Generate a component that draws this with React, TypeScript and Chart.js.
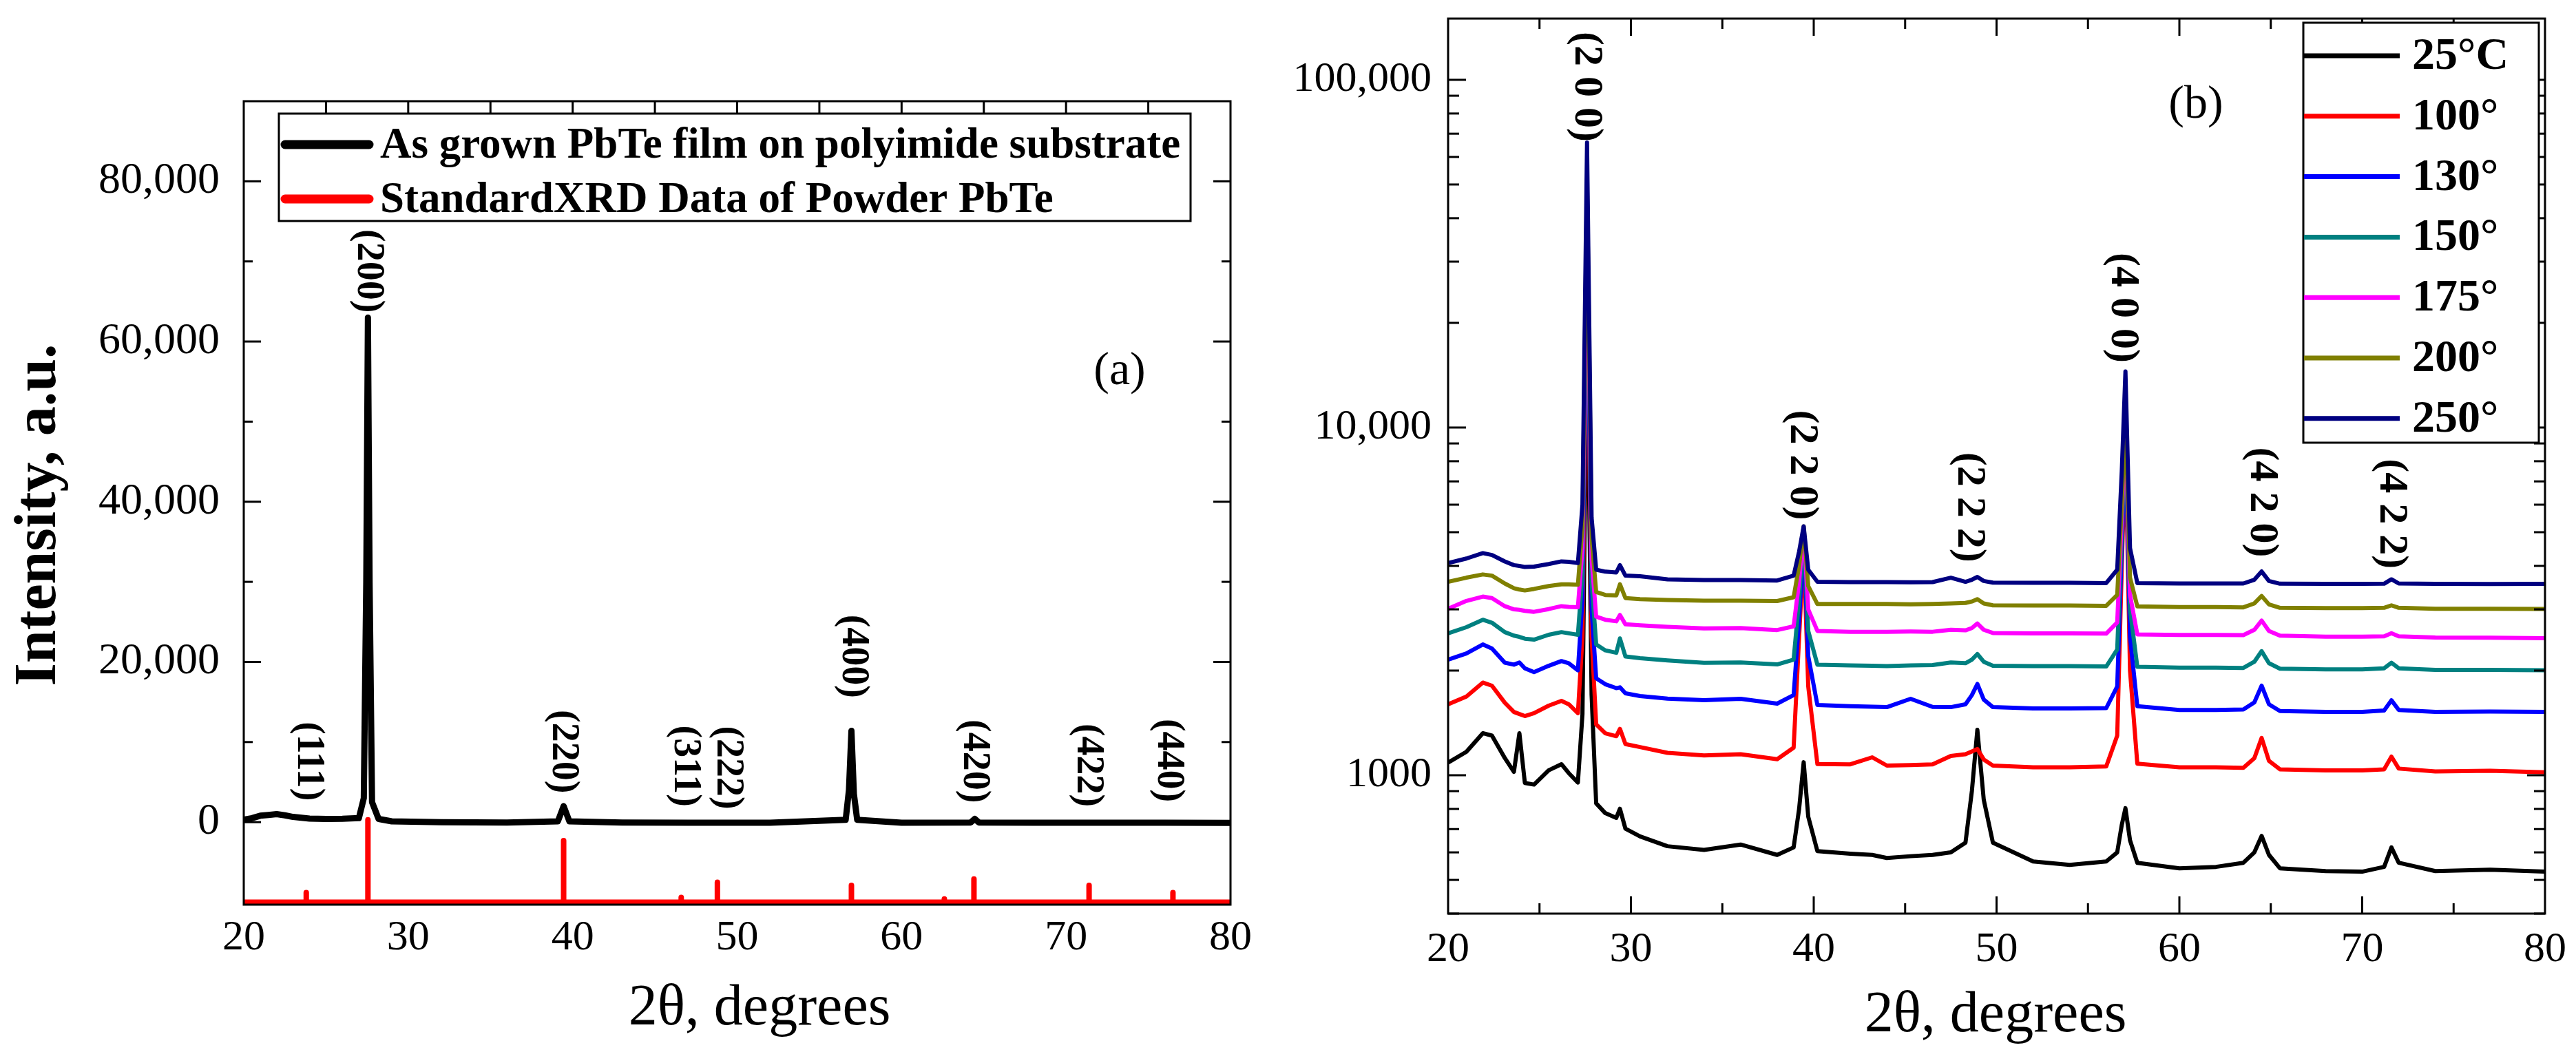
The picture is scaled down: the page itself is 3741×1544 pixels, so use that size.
import React, { useEffect, useRef } from 'react';
import { Chart, registerables } from 'chart.js';

Chart.register(...registerables);

const SERIF = '"Liberation Serif", "Times New Roman", serif';

// ---------------- Panel (a) data ----------------
const thetaA = [20, 20.5, 21, 21.5, 22, 22.5, 23, 24, 25, 26, 27, 27.3, 27.45, 27.55, 27.65, 27.8, 28.2, 29, 32, 36, 39.1, 39.45, 39.8, 43, 47, 52, 56.6, 56.8, 56.95, 57.1, 57.3, 60, 64.2, 64.45, 64.7, 68, 72, 76, 80];
const intensityA = [300, 500, 800, 900, 1000, 850, 650, 450, 400, 420, 500, 3000, 30000, 63000, 30000, 2500, 400, 100, 0, -50, 100, 2000, 100, -50, -80, -80, 300, 4000, 11400, 3500, 300, -80, -50, 400, -50, -80, -80, -80, -100];
const stdPeakTheta = [23.8, 27.55, 39.45, 46.6, 48.8, 56.95, 62.6, 64.4, 71.4, 76.5];
const stdPeakTop = [-8800, 300, -2300, -9400, -7500, -7900, -9600, -7100, -7900, -8800];
const stdBaseline = -10000;
const hklA = ['(111)', '(200)', '(220)', '(311)', '(222)', '(400)', '(420)', '(422)', '(440)'];
const hklAX = [23.9, 27.55, 39.4, 46.8, 49.4, 57.05, 64.4, 71.3, 76.2];
const hklAY = [7600, 68800, 8800, 7000, 6800, 20700, 7600, 7100, 7700];
const yTicksA = [0, 20000, 40000, 60000, 80000];
const yTickLabelsA = ['0', '20,000', '40,000', '60,000', '80,000'];
const yMinorA = [10000, 30000, 50000, 70000];
const legendLabelsA = ['As grown PbTe film on polyimide substrate', 'StandardXRD Data of Powder PbTe'];

// ---------------- shared x ticks ----------------
const xTicks = [20, 30, 40, 50, 60, 70, 80];
const xTickLabels = ['20', '30', '40', '50', '60', '70', '80'];
const xMajorInner = [30, 40, 50, 60, 70];
const xMinor = [25, 35, 45, 55, 65, 75];

// ---------------- Panel (b) data ----------------
const thetaB = [20, 21, 21.9, 22.4, 23.1, 23.6, 23.9, 24.2, 24.7, 25.5, 26.2, 26.6, 27.1, 27.35, 27.6, 27.85, 28.1, 28.6, 29.2, 29.4, 29.7, 30.5, 32, 34, 36, 38, 38.9, 39.2, 39.45, 39.7, 40.2, 42, 43.2, 44, 45.3, 46.5, 47.5, 48.3, 48.65, 48.95, 49.3, 49.8, 52, 54, 56, 56.6, 56.85, 57.05, 57.3, 57.7, 60, 62, 63.5, 64.1, 64.5, 64.9, 65.5, 68, 70, 71.2, 71.6, 72.0, 74, 77, 80];
const i25 = [1087, 1168, 1321, 1300, 1121, 1023, 1321, 950, 940, 1033, 1076, 1014, 953, 1500, 20000, 1700, 830, 778, 754, 801, 702, 667, 625, 610, 632, 590, 620, 800, 1090, 760, 605, 595, 590, 578, 585, 590, 600, 640, 900, 1351, 850, 640, 565, 552, 565, 600, 720, 804, 650, 560, 540, 545, 560, 600, 669, 590, 540, 530, 528, 545, 620, 560, 530, 535, 528];
const i100 = [1600, 1684, 1847, 1809, 1617, 1520, 1500, 1480, 1508, 1585, 1636, 1600, 1508, 2500, 30000, 2500, 1400, 1320, 1295, 1360, 1229, 1205, 1160, 1140, 1149, 1112, 1200, 2500, 4500, 1800, 1077, 1075, 1126, 1066, 1070, 1075, 1136, 1149, 1170, 1190, 1110, 1066, 1054, 1054, 1060, 1300, 4000, 9000, 2000, 1080, 1054, 1054, 1050, 1120, 1280, 1100, 1040, 1032, 1032, 1040, 1131, 1045, 1025, 1030, 1020];
const i130 = [2150, 2240, 2378, 2314, 2107, 2080, 2110, 2030, 1980, 2064, 2130, 2100, 2003, 3200, 35000, 3000, 1900, 1827, 1780, 1790, 1720, 1690, 1660, 1643, 1659, 1607, 1700, 2800, 4800, 2200, 1592, 1580, 1575, 1570, 1659, 1572, 1570, 1600, 1700, 1830, 1650, 1570, 1556, 1556, 1560, 1800, 4500, 9500, 2500, 1580, 1540, 1540, 1545, 1620, 1810, 1600, 1530, 1522, 1522, 1535, 1643, 1540, 1522, 1525, 1522];
const i150 = [2558, 2665, 2800, 2745, 2580, 2520, 2500, 2470, 2455, 2535, 2580, 2560, 2535, 3800, 40000, 3600, 2378, 2286, 2250, 2475, 2195, 2170, 2140, 2106, 2110, 2083, 2150, 3200, 5000, 2600, 2080, 2070, 2065, 2061, 2070, 2075, 2110, 2100, 2150, 2231, 2120, 2065, 2061, 2061, 2055, 2300, 5000, 10000, 3000, 2050, 2038, 2038, 2035, 2120, 2274, 2100, 2025, 2016, 2016, 2030, 2106, 2030, 2010, 2010, 2004];
const i175 = [3011, 3172, 3264, 3232, 3064, 3000, 2990, 2970, 2951, 3005, 3064, 3050, 3043, 4500, 45000, 4200, 2858, 2800, 2772, 2890, 2716, 2700, 2672, 2644, 2650, 2615, 2680, 3600, 5100, 3000, 2600, 2586, 2586, 2586, 2590, 2586, 2620, 2610, 2650, 2731, 2620, 2565, 2558, 2558, 2555, 2750, 5500, 10500, 3300, 2540, 2532, 2532, 2530, 2620, 2785, 2600, 2520, 2504, 2504, 2510, 2560, 2510, 2490, 2485, 2478];
const i200 = [3600, 3700, 3780, 3750, 3560, 3450, 3420, 3400, 3434, 3500, 3541, 3540, 3530, 5200, 52000, 4800, 3366, 3300, 3290, 3541, 3232, 3210, 3190, 3176, 3176, 3170, 3250, 4000, 5200, 3500, 3108, 3108, 3108, 3108, 3100, 3108, 3120, 3130, 3160, 3209, 3120, 3080, 3076, 3076, 3070, 3300, 6000, 11000, 3700, 3060, 3045, 3045, 3040, 3120, 3278, 3100, 3030, 3024, 3024, 3030, 3080, 3030, 3010, 3010, 3006];
const i250 = [4075, 4200, 4353, 4300, 4120, 4020, 4000, 3970, 3980, 4050, 4121, 4110, 4075, 6000, 66000, 5500, 3900, 3850, 3830, 4020, 3750, 3736, 3660, 3641, 3641, 3630, 3750, 4400, 5200, 3900, 3600, 3593, 3593, 3593, 3590, 3593, 3700, 3600, 3650, 3718, 3620, 3580, 3576, 3576, 3570, 3900, 7500, 14500, 4500, 3570, 3562, 3562, 3560, 3650, 3855, 3620, 3555, 3552, 3552, 3555, 3660, 3560, 3552, 3550, 3552];
const seriesB = [i25, i100, i130, i150, i175, i200, i250];
const seriesLabelsB = ['25°C', '100°', '130°', '150°', '175°', '200°', '250°'];
const seriesColorsB = ['#000000', '#ff0000', '#0000ff', '#008080', '#ff00ff', '#808000', '#000080'];
const hklB = ['(2 0 0)', '(2 2 0)', '(2 2 2)', '(4 0 0)', '(4 2 0)', '(4 2 2)'];
const hklBX = [27.55, 39.35, 48.5, 56.9, 64.5, 71.6];
const hklBY = [95500, 7800, 5900, 22100, 6100, 5650];
const yTicksB = [1000, 10000, 100000];
const yTickLabelsB = ['1000', '10,000', '100,000'];
const yMinorB = [400, 500, 600, 700, 800, 900, 2000, 3000, 4000, 5000, 6000, 7000, 8000, 9000, 20000, 30000, 40000, 50000, 60000, 70000, 80000, 90000];

const H = 1544;

function line(ctx: CanvasRenderingContext2D, x1: number, y1: number, x2: number, y2: number) {
  ctx.beginPath();
  ctx.moveTo(x1, y1);
  ctx.lineTo(x2, y2);
  ctx.stroke();
}

type TickSpec = {
  xTop: [number[], number][];
  xBottom: [number[], number][];
  yLeft: [number[], number][];
  yRight: [number[], number][];
};

function drawFrameAndTicks(chart: any, spec: TickSpec) {
  const ctx: CanvasRenderingContext2D = chart.ctx;
  const { left, right, top, bottom } = chart.chartArea;
  const xs = chart.scales.x;
  const ys = chart.scales.y;
  ctx.save();
  ctx.strokeStyle = '#000';
  ctx.lineWidth = 3;
  ctx.lineCap = 'butt';
  spec.xTop.forEach(([vals, len]) => vals.forEach((v) => { const p = xs.getPixelForValue(v); line(ctx, p, top, p, top + len); }));
  spec.xBottom.forEach(([vals, len]) => vals.forEach((v) => { const p = xs.getPixelForValue(v); line(ctx, p, bottom, p, bottom - len); }));
  spec.yLeft.forEach(([vals, len]) => vals.forEach((v) => { const p = ys.getPixelForValue(v); line(ctx, left, p, left + len, p); }));
  spec.yRight.forEach(([vals, len]) => vals.forEach((v) => { const p = ys.getPixelForValue(v); line(ctx, right, p, right - len, p); }));
  ctx.strokeRect(left, top, right - left, bottom - top);
  ctx.restore();
}

function drawRotatedLabels(chart: any, labels: string[], xv: number[], yv: number[], font: string) {
  const ctx: CanvasRenderingContext2D = chart.ctx;
  const xs = chart.scales.x;
  const ys = chart.scales.y;
  ctx.save();
  ctx.fillStyle = '#000';
  ctx.font = font;
  ctx.textAlign = 'center';
  ctx.textBaseline = 'middle';
  labels.forEach((t, i) => {
    ctx.save();
    ctx.translate(xs.getPixelForValue(xv[i]), ys.getPixelForValue(yv[i]));
    ctx.rotate(Math.PI / 2);
    ctx.fillText(t, 0, 0);
    ctx.restore();
  });
  ctx.restore();
}

function drawText(ctx: CanvasRenderingContext2D, text: string, x: number, y: number, font: string, rot = 0) {
  ctx.save();
  ctx.fillStyle = '#000';
  ctx.font = font;
  ctx.textAlign = 'center';
  ctx.textBaseline = 'middle';
  ctx.translate(x, y);
  if (rot) ctx.rotate(rot);
  ctx.fillText(text, 0, 0);
  ctx.restore();
}

const panelAPlugin = {
  id: 'panelA',
  afterDraw(chart: any) {
    const ctx: CanvasRenderingContext2D = chart.ctx;
    drawFrameAndTicks(chart, {
      xTop: [[xMajorInner, 17], [xMinor, 17]],
      xBottom: [],
      yLeft: [[yTicksA, 25], [yMinorA, 13]],
      yRight: [[yTicksA, 25], [yMinorA, 13]],
    });
    drawRotatedLabels(chart, hklA, hklAX, hklAY, `bold 56px ${SERIF}`);
    // legend
    const bx = 405, by = 165, bw = 1729 - 405, bh = 321 - 165;
    ctx.save();
    ctx.fillStyle = '#fff';
    ctx.fillRect(bx, by, bw, bh);
    ctx.strokeStyle = '#000';
    ctx.lineWidth = 3;
    ctx.strokeRect(bx, by, bw, bh);
    const rows = [210, 289];
    chart.data.datasets.forEach((ds: any, i: number) => {
      ctx.strokeStyle = ds.borderColor;
      ctx.lineWidth = 13;
      ctx.lineCap = 'round';
      line(ctx, 414, rows[i], 536, rows[i]);
      ctx.fillStyle = '#000';
      ctx.font = `bold 63px ${SERIF}`;
      ctx.textAlign = 'left';
      ctx.textBaseline = 'middle';
      ctx.fillText(ds.label, 552, rows[i] + 3);
    });
    ctx.restore();
    drawText(ctx, '(a)', 1626, 540, `68px ${SERIF}`);
    drawText(ctx, '2θ, degrees', 1103, 1466, `84px ${SERIF}`);
    drawText(ctx, 'Intensity, a.u.', 58, 748, `bold 86px ${SERIF}`, -Math.PI / 2);
  },
};

const panelBPlugin = {
  id: 'panelB',
  afterDraw(chart: any) {
    const ctx: CanvasRenderingContext2D = chart.ctx;
    drawFrameAndTicks(chart, {
      xTop: [[xMajorInner, 25], [xMinor, 15]],
      xBottom: [[xMajorInner, 25], [xMinor, 15]],
      yLeft: [[yTicksB, 26], [yMinorB, 16]],
      yRight: [[yTicksB, 26], [yMinorB, 16]],
    });
    drawRotatedLabels(chart, hklB, hklBX, hklBY, `bold 60px ${SERIF}`);
    // legend
    const bx = 1475, by = 33, bw = 1817 - 1475, bh = 643 - 33;
    ctx.save();
    ctx.fillStyle = '#fff';
    ctx.fillRect(bx, by, bw, bh);
    ctx.strokeStyle = '#000';
    ctx.lineWidth = 3;
    ctx.strokeRect(bx, by, bw, bh);
    seriesLabelsB.forEach((lab, i) => {
      const y = 81 + i * 87.8;
      ctx.strokeStyle = seriesColorsB[i];
      ctx.lineWidth = 7;
      ctx.lineCap = 'butt';
      line(ctx, bx + 1, y, 1615, y);
      ctx.fillStyle = '#000';
      ctx.font = `bold 66px ${SERIF}`;
      ctx.textAlign = 'left';
      ctx.textBaseline = 'middle';
      ctx.fillText(lab, 1633, y + 2);
    });
    ctx.restore();
    drawText(ctx, '(b)', 1319, 153, `68px ${SERIF}`);
    drawText(ctx, '2θ, degrees', 1028, 1476, `84px ${SERIF}`);
  },
};

function makeConfigA(): any {
  const stdPoints: { x: number; y: number }[] = [{ x: 20, y: stdBaseline }];
  stdPeakTheta.forEach((t, i) => {
    stdPoints.push({ x: t, y: stdBaseline }, { x: t, y: stdPeakTop[i] }, { x: t, y: stdBaseline });
  });
  stdPoints.push({ x: 80, y: stdBaseline });
  return {
    type: 'line',
    data: {
      datasets: [
        {
          label: legendLabelsA[0],
          data: thetaA.map((x, i) => ({ x, y: intensityA[i] })),
          borderColor: '#000000',
          borderWidth: 9,
          pointRadius: 0,
          tension: 0,
          borderJoinStyle: 'round',
          order: 1,
        },
        {
          label: legendLabelsA[1],
          data: stdPoints,
          borderColor: '#ff0000',
          borderWidth: 8,
          pointRadius: 0,
          tension: 0,
          borderJoinStyle: 'round',
          order: 2,
        },
      ],
    },
    options: {
      animation: false,
      responsive: false,
      devicePixelRatio: 1,
      events: [],
      layout: { padding: { top: 147, right: 83, left: 0, bottom: 0 } },
      plugins: { legend: { display: false }, tooltip: { enabled: false } },
      scales: {
        x: {
          type: 'linear',
          min: 20,
          max: 80,
          grid: { display: false, drawTicks: false },
          border: { display: false },
          afterBuildTicks: (s: any) => { s.ticks = xTicks.map((v) => ({ value: v })); },
          afterFit: (s: any) => { s.height = H - 1314; s.paddingLeft = 0; s.paddingRight = 0; },
          ticks: {
            autoSkip: false,
            maxRotation: 0,
            padding: 12,
            color: '#000',
            font: { family: SERIF, size: 62 },
            callback: (v: any) => xTickLabels[xTicks.indexOf(Number(v))] ?? '',
          },
        },
        y: {
          type: 'linear',
          min: -10300,
          max: 90000,
          grid: { display: false, drawTicks: false },
          border: { display: false },
          afterBuildTicks: (s: any) => { s.ticks = yTicksA.map((v) => ({ value: v })); },
          afterFit: (s: any) => { s.width = 354; s.paddingTop = 0; s.paddingBottom = 0; },
          ticks: {
            autoSkip: false,
            padding: 35,
            color: '#000',
            font: { family: SERIF, size: 64 },
            callback: (v: any) => yTickLabelsA[yTicksA.indexOf(Number(v))] ?? '',
          },
        },
      },
    },
    plugins: [panelAPlugin],
  };
}

function makeConfigB(): any {
  return {
    type: 'line',
    data: {
      datasets: seriesB.map((vals, k) => ({
        label: seriesLabelsB[k],
        data: thetaB.map((x, i) => ({ x, y: vals[i] })),
        borderColor: seriesColorsB[k],
        borderWidth: 6,
        pointRadius: 0,
        tension: 0,
        borderJoinStyle: 'round',
        order: seriesB.length - k,
      })),
    },
    options: {
      animation: false,
      responsive: false,
      devicePixelRatio: 1,
      events: [],
      layout: { padding: { top: 27, right: 45, left: 0, bottom: 0 } },
      plugins: { legend: { display: false }, tooltip: { enabled: false } },
      scales: {
        x: {
          type: 'linear',
          min: 20,
          max: 80,
          grid: { display: false, drawTicks: false },
          border: { display: false },
          afterBuildTicks: (s: any) => { s.ticks = xTicks.map((v) => ({ value: v })); },
          afterFit: (s: any) => { s.height = H - 1327; s.paddingLeft = 0; s.paddingRight = 0; },
          ticks: {
            autoSkip: false,
            maxRotation: 0,
            padding: 16,
            color: '#000',
            font: { family: SERIF, size: 62 },
            callback: (v: any) => xTickLabels[xTicks.indexOf(Number(v))] ?? '',
          },
        },
        y: {
          type: 'logarithmic',
          min: 400,
          max: 150000,
          grid: { display: false, drawTicks: false },
          border: { display: false },
          afterBuildTicks: (s: any) => { s.ticks = yTicksB.map((v) => ({ value: v })); },
          afterFit: (s: any) => { s.width = 233; s.paddingTop = 0; s.paddingBottom = 0; },
          ticks: {
            autoSkip: false,
            padding: 24,
            color: '#000',
            font: { family: SERIF, size: 62 },
            callback: (v: any) => yTickLabelsB[yTicksB.indexOf(Number(v))] ?? '',
          },
        },
      },
    },
    plugins: [panelBPlugin],
  };
}

function Panel({ make, left, width }: { make: () => any; left: number; width: number }) {
  const ref = useRef<HTMLCanvasElement>(null);
  useEffect(() => {
    const chart = new Chart(ref.current as HTMLCanvasElement, make());
    return () => chart.destroy();
  }, []);
  return (
    <canvas
      ref={ref}
      width={width}
      height={H}
      style={{ position: 'absolute', left, top: 0, width, height: H }}
    />
  );
}

export default function App() {
  useEffect(() => {
    document.body.style.margin = '0';
  }, []);
  return (
    <div style={{ position: 'absolute', left: 0, top: 0, width: 3741, height: H, background: '#fff', overflow: 'hidden' }}>
      <Panel make={makeConfigA} left={0} width={1870} />
      <Panel make={makeConfigB} left={1870} width={1871} />
    </div>
  );
}
